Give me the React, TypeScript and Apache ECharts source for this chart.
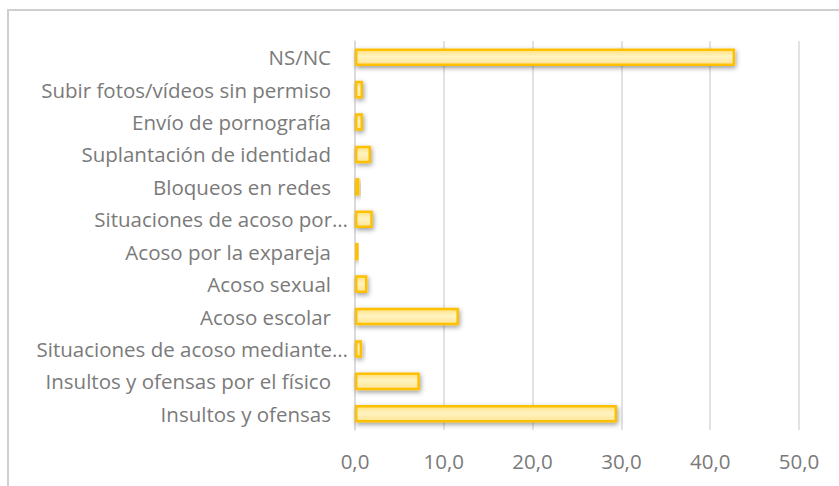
import React, { useEffect, useRef } from "react";
import * as echarts from "echarts";

const categories = [
  "NS/NC",
  "Subir fotos/vídeos sin permiso",
  "Envío de pornografía",
  "Suplantación de identidad",
  "Bloqueos en redes",
  "Situaciones de acoso por…",
  "Acoso por la expareja",
  "Acoso sexual",
  "Acoso escolar",
  "Situaciones de acoso mediante…",
  "Insultos y ofensas por el físico",
  "Insultos y ofensas",
];

const values = [42.8, 0.9, 0.9, 1.8, 0.5, 2.0, 0.4, 1.4, 11.7, 0.8, 7.3, 29.5];

const xTicks = { min: 0, max: 50, interval: 10 };

export default function App() {
  const ref = useRef<HTMLDivElement>(null);
  useEffect(() => {
    document.body.style.margin = "0";
    const chart = echarts.init(ref.current!, null, { renderer: "svg" });
    const fontFamily = "'Open Sans', sans-serif";
    chart.setOption({
      animation: false,
      backgroundColor: "#ffffff",
      graphic: [
        {
          type: "rect",
          shape: { x: 8, y: 10, width: 900, height: 600 },
          style: { fill: "none", stroke: "#cfcfcf", lineWidth: 2 },
          silent: true,
        },
      ],
      grid: { left: 355, right: 40, top: 41, bottom: 56, containLabel: false },
      xAxis: {
        type: "value",
        min: xTicks.min,
        max: xTicks.max,
        interval: xTicks.interval,
        axisLine: { show: false },
        axisTick: { show: false },
        splitLine: { show: true, lineStyle: { color: "#d9d9d9", width: 1.5 } },
        axisLabel: {
          color: "#7a7a7a",
          fontSize: 20.5,
          fontFamily,
          margin: 20,
          formatter: (v: number) => v.toFixed(1).replace(".", ","),
        },
      },
      yAxis: {
        type: "category",
        inverse: true,
        data: categories.map((c) =>
          c.endsWith("…")
            ? { value: c, textStyle: { padding: [0, -17, 0, 0] } }
            : c
        ),
        axisLine: { show: true, lineStyle: { color: "#d9d9d9", width: 1.5 } },
        axisTick: { show: false },
        axisLabel: {
          color: "#7a7a7a",
          fontSize: 20.5,
          fontFamily,
          margin: 24,
        },
      },
      series: [
        {
          type: "bar",
          data: values,
          barWidth: "54%",
          itemStyle: {
            color: new echarts.graphic.LinearGradient(0, 0, 0, 1, [
              { offset: 0, color: "#ffe07e" },
              { offset: 0.45, color: "#fff3c2" },
              { offset: 1, color: "#ffe594" },
            ]),
            borderColor: "#ffc000",
            borderWidth: 2.5,
            shadowColor: "rgba(0,0,0,0.4)",
            shadowBlur: 5,
            shadowOffsetX: 1,
            shadowOffsetY: 2,
          },
        },
      ],
    });
    return () => chart.dispose();
  }, []);
  return <div ref={ref} style={{ width: 839, height: 486 }} />;
}
